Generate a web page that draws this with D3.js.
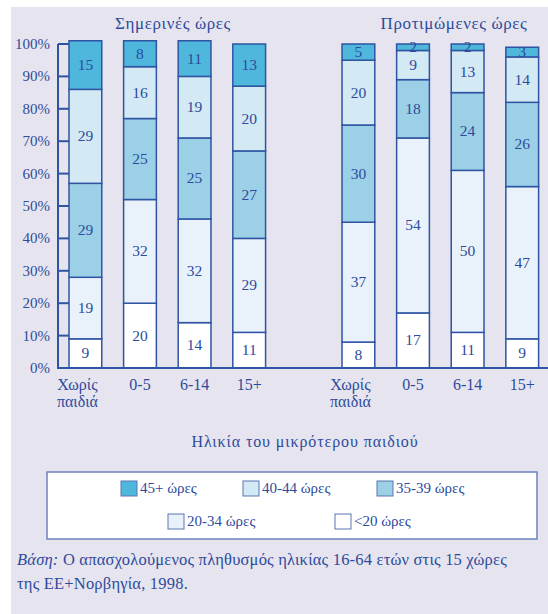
<!DOCTYPE html>
<html lang="el">
  <head>
    <meta charset="UTF-8" />
    <title>Ώρες εργασίας</title>
    <style>
      body { margin: 0; background: #fff; }
      text { font-family: "Liberation Serif", "DejaVu Serif", serif; fill: #2d4b9c; }
    </style>
  </head>
  <body>
    <svg id="svg" width="548" height="614"></svg>

    <script src="https://d3js.org/d3.v7.min.js"></script>
    <script>
      // data
      const groups = ["Σημερινές ώρες", "Προτιμώμενες ώρες"];
      const categories = [["Χωρίς", "παιδιά"], ["0-5"], ["6-14"], ["15+"]];
      const hourBands = ["<20 ώρες", "20-34 ώρες", "35-39 ώρες", "40-44 ώρες", "45+ ώρες"];
      const bandColors = ["#ffffff", "#e9f2fa", "#9bd0e6", "#d3e9f4", "#4fb7db"];
      const currentHours = [[9, 19, 29, 29, 15], [20, 32, 25, 16, 8], [14, 32, 25, 19, 11], [11, 29, 27, 20, 13]];
      const preferredHours = [[8, 37, 30, 20, 5], [17, 54, 18, 9, 2], [11, 50, 24, 13, 2], [9, 47, 26, 14, 3]];
      const yTicks = d3.range(0, 101, 10);
      const legendRows = [["45+ ώρες", "40-44 ώρες", "35-39 ώρες"], ["20-34 ώρες", "<20 ώρες"]];
      const axisTitle = "Ηλικία του μικρότερου παιδιού";

      const svg = d3.select("#svg");
      const ink = "#2f54a3";

      // panel background
      svg.append("rect").attr("x", 11).attr("y", 7).attr("width", 537).attr("height", 607).attr("fill", "#e6e4ef");

      // 9 slots: 4 bars, gap, 4 bars
      const slots = ["a0", "a1", "a2", "a3", "gap", "b0", "b1", "b2", "b3"];
      const x = d3.scaleBand().domain(slots).range([69, 538.6]).paddingInner(0.4).paddingOuter(0);
      const y = d3.scaleLinear().domain([0, 100]).range([368, 44]);

      // build rows
      const rows = [];
      [currentHours, preferredHours].forEach((set, g) => {
        set.forEach((vals, i) => {
          const slot = (g === 0 ? "a" : "b") + i;
          let acc = 0;
          vals.forEach((v, k) => {
            rows.push({ slot, band: k, v, y0: acc, y1: acc + v });
            acc += v;
          });
        });
      });

      // axis: vertical line + ticks to the right
      svg.append("line").attr("x1", 58).attr("x2", 58).attr("y1", y(0)).attr("y2", y(100))
        .attr("stroke", ink).attr("stroke-width", 2);
      svg.selectAll(".tick").data(yTicks).enter().append("line")
        .attr("x1", 58).attr("x2", 69).attr("y1", (d) => y(d)).attr("y2", (d) => y(d))
        .attr("stroke", ink).attr("stroke-width", 2);
      svg.selectAll(".ylab").data(yTicks).enter().append("text")
        .attr("x", 50).attr("y", (d) => y(d) + 5)
        .attr("text-anchor", "end").attr("font-size", 15)
        .text((d) => d + "%");

      // segments
      svg.selectAll(".seg").data(rows).enter().append("rect")
        .attr("x", (d) => x(d.slot))
        .attr("width", x.bandwidth())
        .attr("y", (d) => y(d.y1))
        .attr("height", (d) => y(d.y0) - y(d.y1))
        .attr("fill", (d) => bandColors[d.band])
        .attr("stroke", ink).attr("stroke-width", 1.5);

      svg.selectAll(".val").data(rows).enter().append("text")
        .attr("x", (d) => x(d.slot) + x.bandwidth() / 2)
        .attr("y", (d) => (y(d.y0) + y(d.y1)) / 2 + 5)
        .attr("text-anchor", "middle").attr("font-size", 15.5)
        .text((d) => d.v);

      // baseline
      svg.append("line").attr("x1", 57).attr("x2", 548).attr("y1", y(0)).attr("y2", y(0))
        .attr("stroke", ink).attr("stroke-width", 2);

      // group titles
      svg.selectAll(".gt").data(groups).enter().append("text")
        .attr("x", (d, g) => g === 0 ? 173 : 454).attr("y", 29)
        .attr("text-anchor", "middle").attr("font-size", 17)
        .attr("letter-spacing", 0.6)
        .text((d) => d);

      // category labels
      ["a", "b"].forEach((p) => {
        categories.forEach((lines, i) => {
          const t = svg.append("text")
            .attr("x", x(p + i) + x.bandwidth() / 2 + (lines.length > 1 ? -8 : 0))
            .attr("y", 390).attr("text-anchor", "middle").attr("font-size", 16);
          lines.forEach((l, j) => {
            t.append("tspan").attr("x", t.attr("x")).attr("dy", j ? 17 : 0).text(l);
          });
        });
      });

      svg.append("text").attr("x", 305).attr("y", 447).attr("text-anchor", "middle")
        .attr("font-size", 16).attr("letter-spacing", 0.9).text(axisTitle);

      // legend
      svg.append("rect").attr("x", 47).attr("y", 472).attr("width", 490).attr("height", 67)
        .attr("fill", "#fff").attr("stroke", "#6c82be").attr("stroke-width", 1.5);
      const legendX = [[121, 243, 377], [168, 335]];
      legendRows.forEach((row, r) => {
        row.forEach((label, j) => {
          const k = hourBands.indexOf(label);
          const lx = legendX[r][j];
          const ly = r === 0 ? 481 : 514;
          svg.append("rect").attr("x", lx).attr("y", ly).attr("width", 16).attr("height", 15)
            .attr("fill", bandColors[k]).attr("stroke", "#5a74b4").attr("stroke-width", 1);
          svg.append("text").attr("x", lx + 19).attr("y", ly + 12).attr("font-size", 15).text(label);
        });
      });

      // footnote
      const note = svg.append("text").attr("x", 17).attr("y", 565).attr("font-size", 16.5)
        .attr("letter-spacing", 0.2);
      note.append("tspan").attr("font-style", "italic").text("Βάση:");
      note.append("tspan").text(" Ο απασχολούμενος πληθυσμός ηλικίας 16-64 ετών στις 15 χώρες");
      svg.append("text").attr("x", 17).attr("y", 589).attr("font-size", 16.5).attr("letter-spacing", 0.2)
        .text("της ΕΕ+Νορβηγία, 1998.");
    </script>
  </body>
</html>
